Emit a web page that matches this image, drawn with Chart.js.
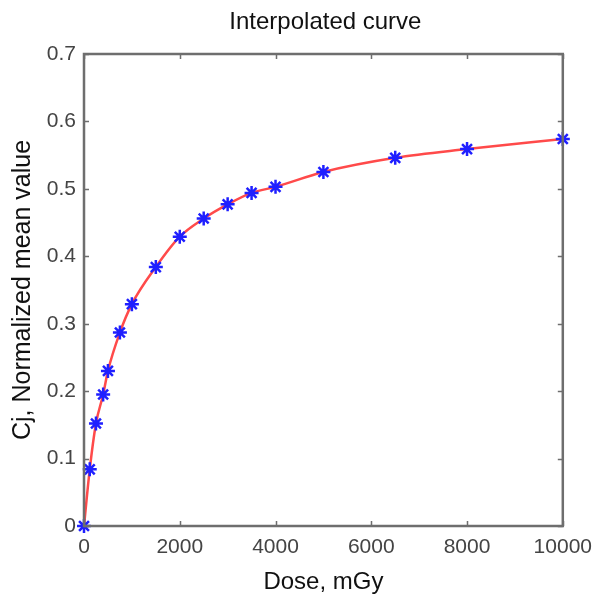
<!DOCTYPE html>
<html><head><meta charset="utf-8">
<script src="https://cdn.jsdelivr.net/npm/chart.js@4/dist/chart.umd.min.js"></script>
<style>html,body{margin:0;padding:0;background:#fff}#wrap{width:601px;height:597px}</style>
</head><body><div id="wrap"><canvas id="c" width="601" height="597"></canvas></div>
<script>
const doses = [0, 120, 250, 400, 500, 750, 1000, 1500, 2000, 2500, 3000, 3500, 4000, 5000, 6500, 8000, 10000];
const values = [0, 0.084, 0.152, 0.195, 0.230, 0.287, 0.329, 0.384, 0.429, 0.456, 0.477, 0.494, 0.503, 0.525, 0.546, 0.559, 0.574];
const xTicks = [0, 2000, 4000, 6000, 8000, 10000];
const yTicks = [0, 0.1, 0.2, 0.3, 0.4, 0.5, 0.6, 0.7];
const titleText = 'Interpolated curve';

const pts = doses.map((d, i) => ({x: d, y: values[i]}));
const AX = '#6e6e6e';
const FONT = "'Liberation Sans', Arial, sans-serif";

const boxPlugin = {
  id: 'box',
  afterDatasetsDraw(chart) {
    const {ctx, chartArea: a, scales: {x, y}} = chart;
    ctx.save();
    ctx.strokeStyle = AX;
    ctx.lineWidth = 1.5;
    const L = 5;
    ctx.beginPath();
    x.ticks.forEach(t => {
      const px = Math.round(x.getPixelForValue(t.value)) + 0.5;
      ctx.moveTo(px, a.bottom); ctx.lineTo(px, a.bottom - L);
      ctx.moveTo(px, a.top); ctx.lineTo(px, a.top + L);
    });
    y.ticks.forEach(t => {
      const py = Math.round(y.getPixelForValue(t.value)) + 0.5;
      ctx.moveTo(a.left, py); ctx.lineTo(a.left + L, py);
      ctx.moveTo(a.right, py); ctx.lineTo(a.right - L, py);
    });
    ctx.stroke();
    ctx.lineWidth = 2.5;
    ctx.strokeRect(a.left, a.top, a.right - a.left, a.bottom - a.top);
    // title centred over the plot area
    ctx.fillStyle = '#111';
    ctx.font = "24px " + FONT;
    ctx.textAlign = 'center';
    ctx.textBaseline = 'middle';
    ctx.fillText(titleText, (a.left + a.right) / 2 + 2, 22);
    ctx.restore();
  }
};

new Chart(document.getElementById('c'), {
  type: 'scatter',
  data: {
    datasets: [
      {
        data: pts, showLine: true, pointRadius: 0, borderColor: '#ff4a4a', borderWidth: 2.5,
        cubicInterpolationMode: 'monotone', order: 2, clip: false
      },
      {
        data: pts, showLine: false, pointStyle: 'star', pointRadius: 7, pointBorderWidth: 2.5,
        borderColor: '#1f1fff', backgroundColor: '#1f1fff', order: 1, clip: false
      }
    ]
  },
  options: {
    responsive: false, animation: false, devicePixelRatio: 1,
    layout: {padding: {top: 54, right: 34, left: 0, bottom: 0}},
    plugins: {
      legend: {display: false}, tooltip: {enabled: false}, title: {display: false}
    },
    scales: {
      x: {
        type: 'linear', min: 0, max: 10000,
        afterBuildTicks: s => { s.ticks = xTicks.map(v => ({value: v})); },
        afterFit: s => { s.height = 71; },
        grid: {display: false, drawTicks: false},
        border: {display: false},
        ticks: {color: '#444', font: {family: FONT, size: 21}, padding: 9, maxRotation: 0, autoSkip: false,
          callback: v => String(v)},
        title: {display: true, text: 'Dose, mGy', color: '#111', font: {family: FONT, size: 24}, padding: {top: 0, bottom: 0}}
      },
      y: {
        type: 'linear', min: 0, max: 0.7,
        afterBuildTicks: s => { s.ticks = yTicks.map(v => ({value: v})); },
        afterFit: s => { s.width = 84; },
        grid: {display: false, drawTicks: false},
        border: {display: false},
        ticks: {color: '#444', font: {family: FONT, size: 21}, padding: 8, autoSkip: false,
          callback: v => (v === 0 ? '0' : String(Math.round(v * 10) / 10))},
        title: {display: true, text: 'Cj, Normalized mean value', color: '#111', font: {family: FONT, size: 25}, padding: {top: 8, bottom: 0}}
      }
    }
  },
  plugins: [boxPlugin]
});
</script></body></html>
